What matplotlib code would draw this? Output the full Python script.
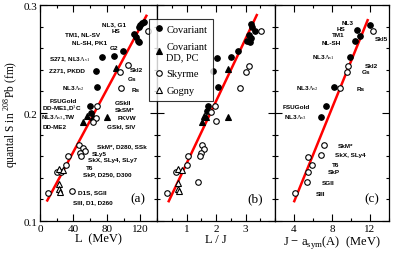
import numpy as np
import matplotlib.pyplot as plt
from matplotlib.ticker import MultipleLocator

plt.rcParams['font.family'] = ['Liberation Serif', 'DejaVu Serif']
plt.rcParams['mathtext.fontset'] = 'custom'
plt.rcParams['mathtext.rm'] = 'Liberation Serif'

# panel (a): S vs L
a_cov_x = [124.5, 122, 120.2, 118.5, 112.6, 114.6, 116.7, 118.6, 99.5, 88.4, 73.6, 66.9, 68.4, 59.7, 60.5]
a_cov_y = [0.2845, 0.2833, 0.2815, 0.2794, 0.2731, 0.270, 0.267, 0.2655, 0.2577, 0.2525, 0.2516, 0.2392, 0.2238, 0.2068, 0.200]
a_dd_x = [90.7, 79.6, 55.7, 63.7, 51.7]
a_dd_y = [0.2417, 0.196, 0.1975, 0.196, 0.192]
a_sky_x = [129, 105, 95.5, 97.5, 67.7, 66.9, 63.7, 46.6, 51.7, 53.7, 47.8, 48.6, 33.8, 31, 19.9, 25, 37.8, 10]
a_sky_y = [0.276, 0.244, 0.238, 0.223, 0.2068, 0.195, 0.192, 0.170, 0.1673, 0.165, 0.1627, 0.160, 0.160, 0.152, 0.1457, 0.1457, 0.128, 0.126]
a_gog_x = [23, 27, 23, 23, 23.9]
a_gog_y = [0.148, 0.1475, 0.1342, 0.130, 0.127]
a_fit_x = [8, 128]
a_fit_y = [0.118, 0.291]

# panel (b): S vs L/J
b_cov_x = [3.18, 3.23, 3.32, 3.12, 3.18, 3.06, 3.14, 2.76, 2.52, 2.02, 1.90, 2.06, 1.73, 1.68]
b_cov_y = [0.2824, 0.2794, 0.2762, 0.2722, 0.2692, 0.267, 0.2655, 0.2577, 0.2516, 0.2506, 0.2386, 0.2238, 0.2068, 0.2018]
b_dd_x = [2.42, 2.40, 1.60, 1.53, 1.66]
b_dd_y = [0.2407, 0.196, 0.1975, 0.192, 0.196]
b_sky_x = [3.53, 3.12, 3.00, 2.81, 1.97, 1.82, 2.00, 1.53, 1.59, 1.48, 1.46, 1.06, 1.03, 0.65, 1.40, 0.35]
b_sky_y = [0.2762, 0.2438, 0.238, 0.223, 0.2068, 0.2006, 0.193, 0.170, 0.1667, 0.1627, 0.1605, 0.160, 0.152, 0.1457, 0.1358, 0.126]
b_gog_x = [0.72, 0.84, 0.71, 0.72, 0.75]
b_gog_y = [0.148, 0.1475, 0.135, 0.130, 0.128]
b_fit_x = [0.38, 3.4]
b_fit_y = [0.1173, 0.2917]

# panel (c): S vs J - a_sym(A)
c_cov_x = [11.98, 10.63, 10.99, 10.38, 9.85, 8.18, 7.33, 6.80]
c_cov_y = [0.2815, 0.2773, 0.2716, 0.2664, 0.2521, 0.2238, 0.2068, 0.196]
c_sky_x = [12.33, 9.71, 9.60, 8.86, 7.12, 6.84, 5.49, 5.88, 5.49, 5.35, 4.07]
c_sky_y = [0.2762, 0.2438, 0.238, 0.223, 0.170, 0.161, 0.1595, 0.152, 0.1458, 0.1358, 0.126]
c_fit_x = [3.98, 11.8]
c_fit_y = [0.1173, 0.287]

a_labels = [
    ("NL3, G1", 74, 0.2829), ("HS", 86, 0.2768), ("TM1, NL-SV", 29.9, 0.2736),
    ("NL-SH, PK1", 38.2, 0.2662), ("G2", 83.6, 0.2606),
    ("S271, NL3$\\Lambda_{\\rm v1}$", 10.7, 0.2505), ("Z271, PKDD", 10.7, 0.2403),
    ("NL3$\\Lambda_{\\rm v2}$", 26.3, 0.2236), ("FSUGold", 11.9, 0.2116),
    ("DD-ME1,D$^{3}$C", 2.4, 0.2051), ("NL3$\\Lambda_{\\rm v3}$,TW", 1.2, 0.1967),
    ("DD-ME2", 3.6, 0.1875), ("SkI2", 107.5, 0.2403), ("Gs", 105, 0.2315),
    ("Rs", 110, 0.2222), ("GSkII", 89.6, 0.2093), ("SkSM*", 89.6, 0.2032),
    ("FKVW", 93.1, 0.1954), ("GSkI, SIV", 80, 0.188),
    ("SkM*, D280, SSk", 68, 0.1699), ("SLy5", 62, 0.1625),
    ("SkX, SLy4, SLy7", 57.3, 0.1569), ("T6", 55, 0.150),
    ("SkP, D250, D300", 51.3, 0.144), ("D1S, SGII", 45.4, 0.1273),
    ("SIII, D1, D260", 39.4, 0.118),
]
c_labels = [
    ("NL3", 9.0, 0.2838), ("HS", 8.47, 0.2782), ("TM1", 8.04, 0.2727),
    ("NL-SH", 6.87, 0.2653), ("SkI5", 12.51, 0.269),
    ("NL3$\\Lambda_{\\rm v1}$", 5.91, 0.2523), ("SkI2", 11.45, 0.244),
    ("Gs", 11.13, 0.2384), ("NL3$\\Lambda_{\\rm v2}$", 4.21, 0.2236),
    ("Rs", 10.6, 0.2227), ("FSUGold", 2.83, 0.206),
    ("NL3$\\Lambda_{\\rm v3}$", 2.94, 0.1967), ("SkM*", 8.57, 0.1699),
    ("SkX, SLy4", 8.36, 0.1616), ("T6", 8.04, 0.1523), ("SkP", 7.51, 0.1458),
    ("SGII", 6.98, 0.1356), ("SIII", 6.34, 0.1255),
]

W, H = 395, 255
fig = plt.figure(figsize=(W / 100, H / 100), dpi=100)
bot = 1 - 222 / H
hgt = (222 - 6) / H
ax_a = fig.add_axes([40 / W, bot, 117 / W, hgt])
ax_b = fig.add_axes([157 / W, bot, 118 / W, hgt])
ax_c = fig.add_axes([275 / W, bot, 114 / W, hgt])

ms = 4.0
mew = 0.8
ann_font = dict(family=['Liberation Sans', 'DejaVu Sans'], fontweight='bold', fontsize=4.6)


def draw(ax, fx, fy, cov, dd, sky, gog):
    ax.plot(fx, fy, color='red', lw=1.8, zorder=1, solid_capstyle='butt')
    h = []
    h += ax.plot(cov[0], cov[1], 'o', ms=ms, mfc='black', mec='black', mew=mew, ls='none',
                 label='Covariant', zorder=3)
    if dd is not None:
        h += ax.plot(dd[0], dd[1], '^', ms=ms + 0.6, mfc='black', mec='black', mew=mew, ls='none',
                     label='Covariant\nDD, PC', zorder=3)
    h += ax.plot(sky[0], sky[1], 'o', ms=ms, mfc='white', mec='black', mew=mew, ls='none',
                 label='Skyrme', zorder=3)
    if gog is not None:
        h += ax.plot(gog[0], gog[1], '^', ms=ms + 0.6, mfc='white', mec='black', mew=mew, ls='none',
                     label='Gogny', zorder=3)
    ax.set_ylim(0.1, 0.3)
    ax.yaxis.set_major_locator(MultipleLocator(0.1))
    ax.yaxis.set_minor_locator(MultipleLocator(0.02))
    ax.tick_params(which='both', direction='in', top=True, right=True, labelsize=8, pad=2)
    ax.tick_params(which='major', length=5, width=0.8)
    ax.tick_params(which='minor', length=2.5, width=0.8)
    for s in ax.spines.values():
        s.set_linewidth(0.9)
    return h


handles = draw(ax_a, a_fit_x, a_fit_y, (a_cov_x, a_cov_y), (a_dd_x, a_dd_y),
               (a_sky_x, a_sky_y), (a_gog_x, a_gog_y))
draw(ax_b, b_fit_x, b_fit_y, (b_cov_x, b_cov_y), (b_dd_x, b_dd_y),
     (b_sky_x, b_sky_y), (b_gog_x, b_gog_y))
draw(ax_c, c_fit_x, c_fit_y, (c_cov_x, c_cov_y), None, (c_sky_x, c_sky_y), None)

ax_a.set_xlim(0, 140)
ax_a.xaxis.set_major_locator(MultipleLocator(40))
ax_a.xaxis.set_minor_locator(MultipleLocator(20))
ax_a.set_yticks([0.1, 0.2, 0.3])
ax_a.set_yticklabels(['0.1', '0.2', '0.3'])
ax_a.set_xlabel('L  (MeV)', fontsize=9, labelpad=0)
ax_a.set_ylabel('quantal S in $^{208}$Pb (fm)', fontsize=8.3, labelpad=1.5)

ax_b.set_xlim(0, 4)
ax_b.set_xticks([1, 2, 3])
ax_b.xaxis.set_minor_locator(MultipleLocator(0.5))
ax_b.set_yticklabels([])
ax_b.set_xlabel('L / J', fontsize=9, labelpad=0)

ax_c.set_xlim(2, 14)
ax_c.set_xticks([4, 8, 12])
ax_c.xaxis.set_minor_locator(MultipleLocator(2))
ax_c.set_yticklabels([])
ax_c.set_xlabel('J $-$ a$_{\\rm sym}$(A)  (MeV)', fontsize=9, labelpad=0)

for txt, x, y in a_labels:
    ax_a.text(x, y, txt, ha='left', va='center', **ann_font)
for txt, x, y in c_labels:
    ax_c.text(x, y, txt, ha='left', va='center', **ann_font)

ax_a.text(0.833, 0.104, '(a)', transform=ax_a.transAxes, ha='center', va='center', fontsize=9.5)
ax_b.text(0.83, 0.104, '(b)', transform=ax_b.transAxes, ha='center', va='center', fontsize=9.5)
ax_c.text(0.846, 0.104, '(c)', transform=ax_c.transAxes, ha='center', va='center', fontsize=9.5)

leg = fig.legend(handles=handles, loc='upper left', bbox_to_anchor=(149 / W, 1 - 20 / H),
                 fontsize=7.5, frameon=True, fancybox=False, edgecolor='black',
                 handlelength=0.8, handletextpad=0.3, labelspacing=0.75, borderpad=0.55,
                 borderaxespad=0)
leg.get_frame().set_linewidth(0.8)
leg.set_zorder(10)

plt.savefig('out.png', dpi=100)
